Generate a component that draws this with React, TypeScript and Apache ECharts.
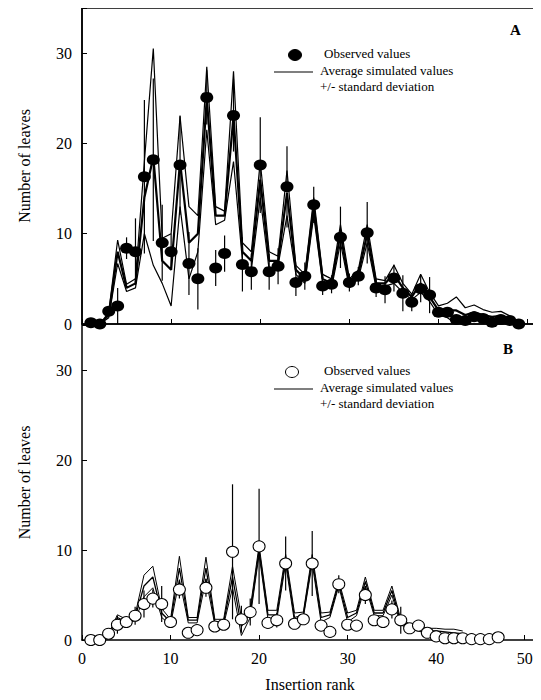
import React, { useEffect, useRef } from "react";
import * as echarts from "echarts";

const obsA = [0.15,0,1.4,2.0,8.4,8.0,16.3,18.2,9.0,8.0,17.6,6.7,5.0,25.1,6.2,7.8,23.1,6.6,5.8,17.6,5.8,6.4,15.2,4.6,5.3,13.2,4.2,4.4,9.6,4.6,5.3,10.1,4.0,3.8,5.1,3.4,2.4,3.9,3.2,1.3,1.3,0.5,0.4,0.8,0.6,0.2,0.5,0.4,0];
const errA = [0,0,0.5,2,1.2,3.7,8.5,9,4.2,2,5.5,3.5,3.4,3,2,2,4,3,2,5.3,2,2,4.5,1.5,1.5,2,1,1,3.4,1,1,3.4,1,1.5,1.5,2,1,1.5,2,0.5,0.5,0.3,0.3,0.3,0.3,0.2,0.2,0.2,0];
const meanA = [0,0,1.0,8,4,4.5,14,18.5,7,6,18,9,10,25,12,12,23,8,7,16,7,7,14.5,6,5,13,5,4.5,10,4.5,5.5,10,4.5,4.5,5.5,4,3,4.5,3,1.5,1.5,1.5,1,1.3,1,0.8,0.9,0.5];
const sdA = [0,0,0.3,1.3,0.4,0.5,4,12,2.5,4,5,4,2,3.5,1,0.5,5,1,1,2,1,0.5,2.5,0.5,0.5,1,0.5,0.5,1,0.5,0.5,1,0.5,0.3,1,0.5,0.3,1,0.5,0.5,0.8,1.5,0.8,0.8,0.6,0.5,0.5,0.4];
const obsB = [0,0,0.7,1.7,2.0,2.7,4.0,4.6,4.0,2.0,5.6,0.8,1.1,5.8,1.5,1.7,9.8,2.3,3.1,10.4,1.9,2.2,8.5,1.8,2.3,8.5,1.6,0.9,6.2,1.7,1.6,5.0,2.2,2.0,3.4,2.2,1.3,1.6,0.8,0.4,0.2,0.2,0.2,0.1,0.1,0.1,0.3];
const errB = [0,0,0.5,1,0.5,1,1.5,1,2,0.5,1,0.3,0.5,1,0.5,0.5,7.5,1.5,1.5,6.4,0.5,0.8,3,0.5,0.5,3.6,0.5,0.5,1,0.5,0.5,1,0.5,0.5,1,1.5,0.5,0.5,0.3,0,0,0,0,0,0,0,0];
const meanB = [0,0,0.5,2.5,2,2.5,6,7,3,2,8,2.2,2.2,8,2,2,7,1.5,3,10,2.8,2.8,9,2.5,2.8,9,2.5,2.8,6.3,2.5,3,6.5,3,3,5.5,2,1.5,1.3,1,1,0.9,0.8,0.7];
const sdB = [0,0,0.2,0.3,0.3,0.3,1.2,1.2,0.5,0.3,1.3,0.3,0.3,1.2,0.3,0.3,1.2,1,0.5,0.5,0.5,0.5,0.5,0.5,0.3,0.5,0.5,0.3,0.3,0.5,0.3,0.5,0.3,0.3,0.5,0.3,0.3,0.3,0.3,0.3,0.3,0.4,0.3];
const yTicks = [0, 10, 20, 30];
const xTicks = [0, 10, 20, 30, 40, 50];

const FONT = "'Liberation Serif', 'DejaVu Serif', serif";
const pts = (arr: number[]) => arr.map((v, i) => [i + 1, v]);

export default function App() {
  const ref = useRef<HTMLDivElement>(null);
  useEffect(() => {
    const chart = echarts.init(ref.current!, null, { renderer: "svg" });
    const errSeries = (obs: number[], err: number[], idx: number) => ({
      type: "custom", xAxisIndex: idx, yAxisIndex: idx, z: 1,
      data: obs.map((v, i) => [i + 1, v, err[i]]),
      renderItem: (params: any, api: any) => {
        const x = api.value(0), y = api.value(1), e = api.value(2);
        const p1 = api.coord([x, Math.max(0, y - e)]);
        const p2 = api.coord([x, y + e]);
        return { type: "line", shape: { x1: p1[0], y1: p1[1], x2: p2[0], y2: p2[1] }, style: { stroke: "#000", lineWidth: 1.2 } };
      },
    });
    const lineS = (data: number[][], idx: number, w: number) => ({
      type: "line", xAxisIndex: idx, yAxisIndex: idx, data, symbol: "none", z: 2,
      lineStyle: { color: "#000", width: w },
    });
    const xAx = (idx: number, labels: boolean) => ({
      type: "value", gridIndex: idx, min: 0, max: 51.5, interval: 10,
      axisLine: { lineStyle: { color: "#000", width: 1.5 } },
      axisTick: { inside: true, length: 5, lineStyle: { color: "#000" } },
      axisLabel: { show: labels, color: "#000", fontFamily: FONT, fontSize: 16, margin: 10,
        formatter: (v: number) => (xTicks.includes(v) ? String(v) : "") },
      splitLine: { show: false },
      name: labels ? "Insertion rank" : "", nameLocation: "middle", nameGap: 36,
      nameTextStyle: { color: "#000", fontFamily: FONT, fontSize: 16 },
    });
    const yAx = (idx: number) => ({
      type: "value", gridIndex: idx, min: 0, max: 35, interval: 10,
      axisLine: { show: true, lineStyle: { color: "#000", width: 1.5 } },
      axisTick: { inside: true, length: 5, lineStyle: { color: "#000" } },
      axisLabel: { color: "#000", fontFamily: FONT, fontSize: 16, margin: 10,
        formatter: (v: number) => (yTicks.includes(v) ? String(v) : "") },
      splitLine: { show: false },
      name: "Number of leaves", nameLocation: "middle", nameGap: 50,
      nameTextStyle: { color: "#000", fontFamily: FONT, fontSize: 16 },
    });
    const legend = (top: number, filled: boolean, letter: string, lx: number, ly: number) => [
      { type: "text", left: lx, top: ly, style: { text: letter, font: `bold 15px ${FONT}`, fill: "#000" } },
      { type: "ellipse", shape: { cx: 287 + (filled ? 0 : -3), cy: top, rx: 6.5, ry: 5.5 },
        style: { fill: filled ? "#000" : "#fff", stroke: "#000", lineWidth: 1 } },
      { type: "text", left: 316, top: top - 8, style: { text: "Observed values", font: `13px ${FONT}`, fill: "#000" } },
      { type: "line", shape: { x1: 266, y1: top + 17, x2: 305, y2: top + 17 }, style: { stroke: "#000", lineWidth: 1.2 } },
      { type: "text", left: 312, top: top + 9, style: { text: "Average simulated values", font: `13px ${FONT}`, fill: "#000" } },
      { type: "text", left: 312, top: top + 25, style: { text: "+/- standard deviation", font: `13px ${FONT}`, fill: "#000" } },
    ];
    chart.setOption({
      animation: false,
      grid: [
        { left: 72, top: 0, width: 461, height: 316, show: true, borderColor: "#000", borderWidth: 1.5 },
        { left: 72, top: 317, width: 461, height: 315 },
      ],
      xAxis: [xAx(0, false), xAx(1, true)],
      yAxis: [yAx(0), yAx(1)],
      graphic: [...legend(47, true, "A", 502, 14), ...legend(364, false, "B", 495, 333)],
      series: [
        errSeries(obsA, errA, 0),
        lineS(pts(meanA), 0, 2.2),
        lineS(meanA.map((v, i) => [i + 1, v + sdA[i]]), 0, 1.2),
        lineS(meanA.map((v, i) => [i + 1, Math.max(0, v - sdA[i])]), 0, 1.2),
        { type: "scatter", xAxisIndex: 0, yAxisIndex: 0, z: 3, data: pts(obsA), symbol: "circle", symbolSize: [13, 11],
          itemStyle: { color: "#000", opacity: 1 } },
        errSeries(obsB, errB, 1),
        lineS(pts(meanB), 1, 1.3),
        lineS(meanB.map((v, i) => [i + 1, v + sdB[i]]), 1, 1),
        lineS(meanB.map((v, i) => [i + 1, Math.max(0, v - sdB[i])]), 1, 1),
        { type: "scatter", xAxisIndex: 1, yAxisIndex: 1, z: 3, data: pts(obsB), symbol: "circle", symbolSize: [12, 11],
          itemStyle: { color: "#fff", borderColor: "#000", borderWidth: 1, opacity: 1 } },
      ],
    });
    return () => chart.dispose();
  }, []);
  return <div ref={ref} style={{ width: 533, height: 692 }} />;
}
